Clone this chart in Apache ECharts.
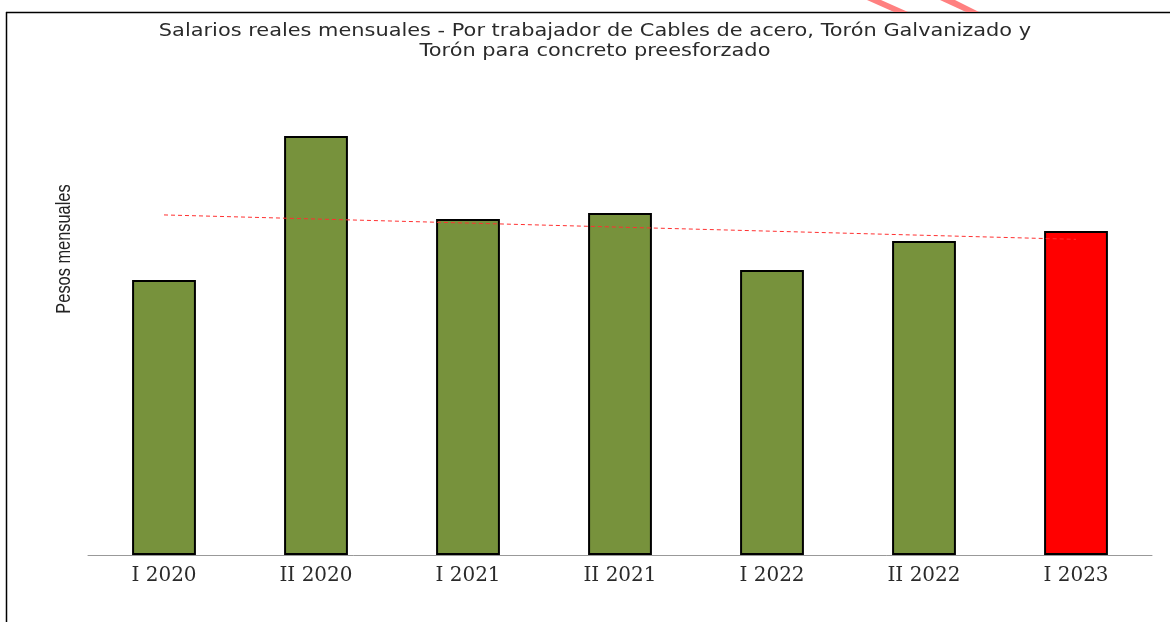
<!DOCTYPE html>
<html>
<head>
<meta charset="utf-8">
<script src="https://cdn.jsdelivr.net/npm/echarts@6/dist/echarts.min.js"></script>
<style>
  html, body { margin:0; padding:0; background:#fff; }
  #chart { width:1170px; height:622px; }
</style>
</head>
<body>
<div id="chart"></div>
<script>
// periodos (semestres)
var categories = ['I 2020', 'II 2020', 'I 2021', 'II 2021', 'I 2022', 'II 2022', 'I 2023'];
// salario real mensual estimado (pesos), leido del grafico sin escala
var salarios = [8250, 12570, 10080, 10260, 8550, 9420, 9720];
var titleText = 'Salarios reales mensuales - Por trabajador de Cables de acero, Torón Galvanizado y\nTorón para concreto preesforzado';
var yName = 'Pesos mensuales';

// linea de tendencia = regresion lineal de los salarios
function tendencia(vals){
  var n = vals.length, sx = 0, sy = 0, sxy = 0, sxx = 0;
  for(var i = 0; i < n; i++){
    sx += i; sy += vals[i]; sxy += i * vals[i]; sxx += i * i;
  }
  var b = (n * sxy - sx * sy) / (n * sxx - sx * sx);
  var a = (sy - b * sx) / n;
  var out = [];
  for(var j = 0; j < n; j++) out.push(+(a + b * j).toFixed(1));
  return out;
}

var barData = [];
for(var i = 0; i < salarios.length; i++){
  barData.push({
    value: salarios[i],
    itemStyle: { color: i == salarios.length - 1 ? '#FF0000' : '#77923C' }
  });
}

var chart = echarts.init(document.getElementById('chart'));
chart.setOption({
  animation: false,
  grid: { left: 88, right: 18, top: 55, bottom: 67 },
  xAxis: {
    type: 'category',
    data: categories,
    axisLine: { lineStyle: { color: '#999', width: 1 } },
    axisTick: { show: false },
    axisLabel: {
      margin: 11,
      fontFamily: 'DejaVu Serif',
      fontSize: 20,
      color: '#2a2a2a'
    }
  },
  yAxis: {
    type: 'value',
    min: 0,
    max: 15000,
    axisLine: { show: false },
    axisTick: { show: false },
    axisLabel: { show: false },
    splitLine: { show: false }
  },
  series: [
    {
      type: 'bar',
      data: barData,
      barWidth: '42%',
      itemStyle: { borderColor: '#000', borderWidth: 2 }
    },
    {
      type: 'line',
      data: tendencia(salarios),
      symbol: 'none',
      z: 3,
      lineStyle: { color: '#FF3030', width: 1, type: [4, 3] }
    }
  ],
  // titulo, nombre del eje, marco y trazos decorativos
  graphic: [
    {
      type: 'text', x: 595, y: 41, scaleX: 1.16,
      style: {
        text: titleText, fill: '#2a2a2a',
        font: '18px "DejaVu Sans"', lineHeight: 20,
        align: 'center', verticalAlign: 'middle'
      }
    },
    {
      type: 'text', x: 64, y: 249, rotation: Math.PI / 2, scaleX: 0.78,
      style: {
        text: yName, fill: '#222',
        font: '21px "Liberation Sans"',
        align: 'center', verticalAlign: 'middle'
      }
    },
    { type: 'line', shape: { x1: 6.5, y1: 12, x2: 6.5, y2: 622 }, style: { stroke: '#000', lineWidth: 1.5 } },
    { type: 'line', shape: { x1: 6, y1: 12.5, x2: 1170, y2: 12.5 }, style: { stroke: '#000', lineWidth: 1.5 } },
    { type: 'polygon', shape: { points: [[867, 0], [881, 0], [908, 12], [894, 12]] }, style: { fill: '#FF8080' } },
    { type: 'polygon', shape: { points: [[940, 0], [955, 0], [979, 12], [966, 12]] }, style: { fill: '#FF8080' } }
  ]
});
</script>
</body>
</html>
